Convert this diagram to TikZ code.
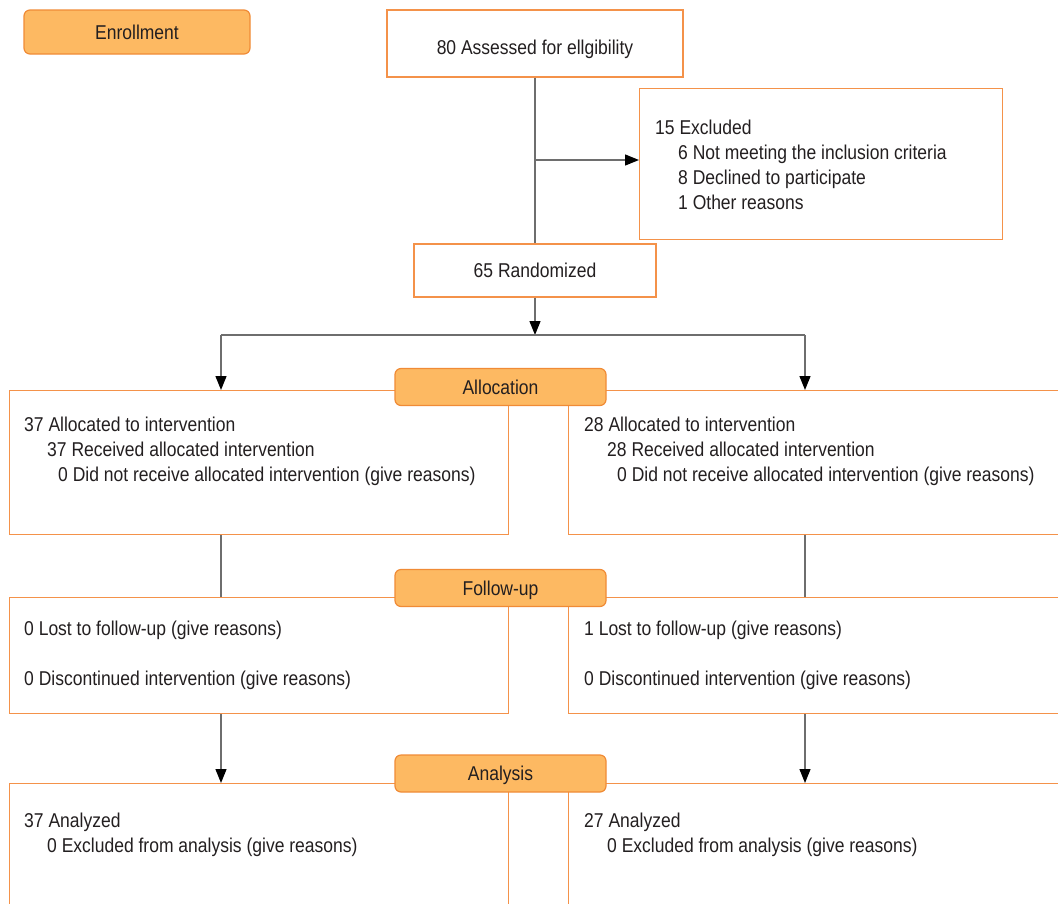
\documentclass[tikz,border=0pt]{standalone}
\usepackage{fontspec}
\setmainfont{Liberation Sans}[FakeStretch=0.875]
\usetikzlibrary{arrows.meta, positioning}
\definecolor{boxline}{HTML}{F4924A}
\definecolor{tagfill}{HTML}{FDB962}
\definecolor{tagline}{HTML}{F08B36}
\definecolor{conn}{HTML}{6E6E6E}
\definecolor{ink}{HTML}{231F20}
\tikzset{
    box/.style={draw=boxline, line width=1.2pt, fill=white, inner sep=0pt},
    tag/.style={draw=tagline, line width=1.2pt, fill=tagfill, rounded corners=6pt, minimum width=211pt, minimum height=37pt, inner sep=0pt, text=ink, text height=14pt, text depth=0pt},
    txt/.style={inner sep=0pt, align=left, text=ink, anchor=north west},
    link/.style={draw=conn, line width=1.3pt},
    arr/.style={link, -{Triangle[length=14pt, width=11pt, color=black]}}
}

\begin{document}
\begin{tikzpicture}[x=1pt, y=-1pt, font=\fontsize{20}{25}\selectfont]
    \useasboundingbox (0,0) rectangle (1058,903);
    \clip (0,0) rectangle (1058,903);

    % top part
    \node [tag, minimum width=226pt, minimum height=44pt] (enroll) at (137,32) {Enrollment};
    \node [box, minimum width=296pt, minimum height=67pt, text=ink, text height=21pt, text depth=0pt] (assess) at (535,43.5) {80 Assessed for ellgibility};
    \node [box, anchor=north west, minimum width=363pt, minimum height=151pt] (excl) at (639,88) {};
    \node [txt] (excl txt) at ([xshift=16pt, yshift=-32pt]excl.north west)
        {15 Excluded\\\hspace*{23pt}6 Not meeting the inclusion criteria\\\hspace*{23pt}8 Declined to participate\\\hspace*{23pt}1 Other reasons};
    \node [box, minimum width=242pt, minimum height=53pt, text=ink] (rand) at (535,270.5) {65 Randomized};

    \draw [link] (assess) -- (rand);
    \draw [arr] (assess.south |- 0,160) -- (excl.west |- 0,160);

    % allocation
    \node [box, anchor=north west, minimum width=499pt, minimum height=144pt] (allocL) at (9,390) {};
    \node [box, anchor=north west, minimum width=520pt, minimum height=144pt] (allocR) at (568,390) {};
    \node [txt] (allocL txt) at ([xshift=15pt, yshift=-27pt]allocL.north west)
        {37 Allocated to intervention\\\hspace*{23pt}37 Received allocated intervention\\\hspace*{34pt}0 Did not receive allocated intervention (give reasons)};
    \node [txt] (allocR txt) at ([xshift=16pt, yshift=-27pt]allocR.north west)
        {28 Allocated to intervention\\\hspace*{23pt}28 Received allocated intervention\\\hspace*{33pt}0 Did not receive allocated intervention (give reasons)};
    \node [tag] (alloc) at (500.5,387) {Allocation};

    \coordinate (split) at (535,335);
    \coordinate (brL) at (221,335);
    \coordinate (brR) at (805,335);
    \draw [arr] (rand) -- (split);
    \draw [link] (brL) -- (brR);
    \draw [arr] (brL) -- (brL |- allocL.north);
    \draw [arr] (brR) -- (brR |- allocR.north);

    % follow-up
    \node [box, anchor=north west, minimum width=499pt, minimum height=116pt] (followL) at (9,597) {};
    \node [box, anchor=north west, minimum width=520pt, minimum height=116pt] (followR) at (568,597) {};
    \node [txt] (followL txt) at ([xshift=15pt, yshift=-24pt]followL.north west)
        {0 Lost to follow-up (give reasons)\\[25pt]0 Discontinued intervention (give reasons)};
    \node [txt] (followR txt) at ([xshift=16pt, yshift=-24pt]followR.north west)
        {1 Lost to follow-up (give reasons)\\[25pt]0 Discontinued intervention (give reasons)};
    \node [tag] (follow) at (500.5,588) {Follow-up};

    \draw [link] (allocL.south -| brL) -- (followL.north -| brL);
    \draw [link] (allocR.south -| brR) -- (followR.north -| brR);

    % analysis
    \node [box, anchor=north west, minimum width=499pt, minimum height=150pt] (anaL) at (9,783) {};
    \node [box, anchor=north west, minimum width=520pt, minimum height=150pt] (anaR) at (568,783) {};
    \node [txt] (anaL txt) at ([xshift=15pt, yshift=-30pt]anaL.north west)
        {37 Analyzed\\\hspace*{23pt}0 Excluded from analysis (give reasons)};
    \node [txt] (anaR txt) at ([xshift=16pt, yshift=-30pt]anaR.north west)
        {27 Analyzed\\\hspace*{23pt}0 Excluded from analysis (give reasons)};
    \node [tag] (ana) at (500.5,773.5) {Analysis};

    \draw [arr] (followL.south -| brL) -- (anaL.north -| brL);
    \draw [arr] (followR.south -| brR) -- (anaR.north -| brR);
\end{tikzpicture}
\end{document}
